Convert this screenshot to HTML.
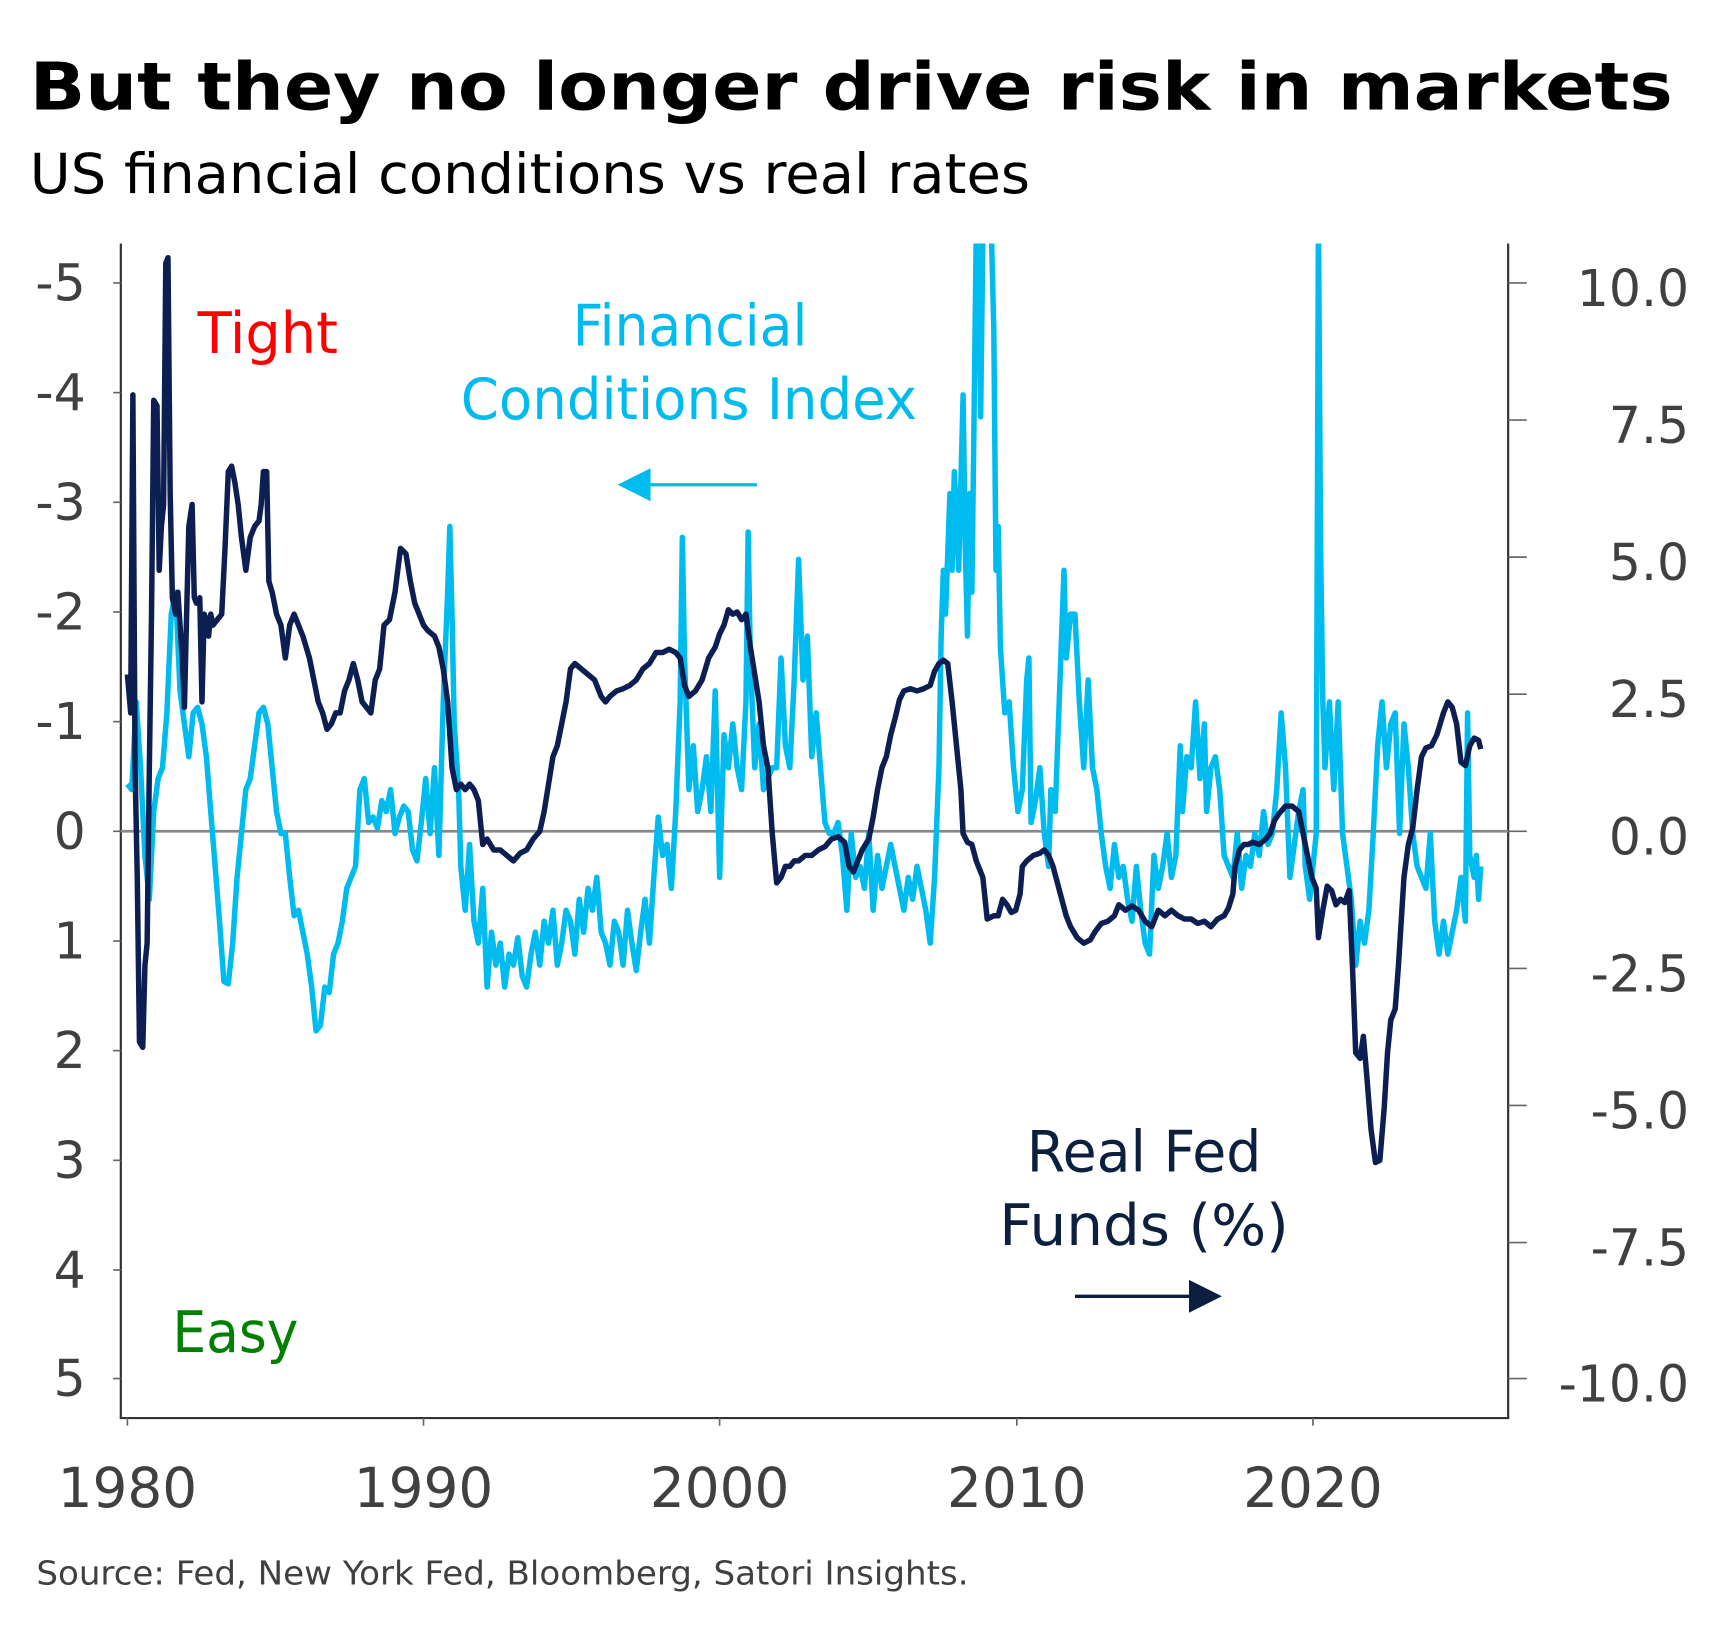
<!DOCTYPE html>
<html><head><meta charset="utf-8"><style>
html,body{margin:0;padding:0;background:#fff}
svg{display:block}
text{font-family:"DejaVu Sans","Liberation Sans",sans-serif}
</style></head><body>
<svg width="1720" height="1633" viewBox="0 0 1568 1489" xmlns="http://www.w3.org/2000/svg">
<defs><clipPath id="c"><rect x="110" y="222" width="1265" height="1071"/></clipPath></defs>
<rect width="1568" height="1489" fill="#fff"/>
<text x="27" y="100" font-size="60" font-weight="bold" fill="#000" textLength="1498" lengthAdjust="spacingAndGlyphs">But they no longer drive risk in markets</text>
<text x="27" y="176" font-size="50" fill="#000" textLength="912" lengthAdjust="spacingAndGlyphs">US financial conditions vs real rates</text>
<g stroke="#333" stroke-width="2" fill="none">
<line x1="110" y1="222" x2="110" y2="1293"/>
<line x1="1375" y1="222" x2="1375" y2="1293"/>
<line x1="109" y1="1293" x2="1376" y2="1293"/>
</g>
<line x1="110" y1="758" x2="1375" y2="758" stroke="#888" stroke-width="2.5"/>
<g stroke="#666" stroke-width="1.5">
<line x1="103" y1="258" x2="110" y2="258"/><line x1="103" y1="358" x2="110" y2="358"/><line x1="103" y1="458" x2="110" y2="458"/><line x1="103" y1="558" x2="110" y2="558"/><line x1="103" y1="658" x2="110" y2="658"/><line x1="103" y1="758" x2="110" y2="758"/><line x1="103" y1="858" x2="110" y2="858"/><line x1="103" y1="958" x2="110" y2="958"/><line x1="103" y1="1058" x2="110" y2="1058"/><line x1="103" y1="1158" x2="110" y2="1158"/><line x1="103" y1="1257" x2="110" y2="1257"/>
<line x1="1375" y1="258" x2="1392" y2="258"/><line x1="1375" y1="383" x2="1392" y2="383"/><line x1="1375" y1="508" x2="1392" y2="508"/><line x1="1375" y1="633" x2="1392" y2="633"/><line x1="1375" y1="758" x2="1392" y2="758"/><line x1="1375" y1="883" x2="1392" y2="883"/><line x1="1375" y1="1008" x2="1392" y2="1008"/><line x1="1375" y1="1133" x2="1392" y2="1133"/><line x1="1375" y1="1257" x2="1392" y2="1257"/>
<line x1="116" y1="1293" x2="116" y2="1300"/><line x1="386" y1="1293" x2="386" y2="1300"/><line x1="656" y1="1293" x2="656" y2="1300"/><line x1="927" y1="1293" x2="927" y2="1300"/><line x1="1197" y1="1293" x2="1197" y2="1300"/>
</g>
<g font-size="46" fill="#404040" text-anchor="end">
<text x="78" y="274">-5</text><text x="78" y="374">-4</text><text x="78" y="474">-3</text><text x="78" y="574">-2</text><text x="78" y="674">-1</text><text x="78" y="774">0</text><text x="78" y="874">1</text><text x="78" y="974">2</text><text x="78" y="1074">3</text><text x="78" y="1174">4</text><text x="78" y="1273">5</text>
<text x="1540" y="279">10.0</text><text x="1540" y="404">7.5</text><text x="1540" y="529">5.0</text><text x="1540" y="654">2.5</text><text x="1540" y="779">0.0</text><text x="1540" y="904">-2.5</text><text x="1540" y="1029">-5.0</text><text x="1540" y="1154">-7.5</text><text x="1540" y="1278">-10.0</text>
</g>
<g font-size="50" fill="#404040" text-anchor="middle">
<text x="116" y="1374">1980</text><text x="386" y="1374">1990</text><text x="656" y="1374">2000</text><text x="927" y="1374">2010</text><text x="1197" y="1374">2020</text>
</g>
<g clip-path="url(#c)">
<polyline fill="none" stroke="#00bbee" stroke-width="5" stroke-linejoin="round" points="116,715 120,720 124,640 128,700 132,780 136,820 140,740 144,710 148,700 152,650 156,560 160,540 164,630 168,660 172,690 176,650 180,645 184,660 188,690 192,740 196,790 200,840 204,895 208,897 212,860 216,800 220,760 224,720 228,710 232,680 236,650 240,645 244,660 248,700 252,740 256,760 260,760 264,800 268,835 272,830 276,850 280,870 284,900 288,940 292,935 296,900 300,905 304,870 308,860 312,840 316,810 320,800 324,790 328,720 332,710 336,750 340,745 344,755 348,730 352,740 356,720 360,760 364,745 368,735 372,740 376,775 380,785 384,750 388,710 392,760 396,700 400,780 404,640 408,540 410,480 412,560 414,660 418,720 420,790 424,830 428,770 432,840 436,860 440,810 444,900 448,850 452,880 456,860 460,900 464,870 468,880 472,855 476,890 480,900 484,870 488,850 492,880 496,840 500,860 504,830 508,880 512,860 516,830 520,840 524,870 528,820 532,850 536,810 540,830 544,800 548,850 552,860 556,880 560,840 564,850 568,880 572,830 576,860 580,885 584,850 588,820 592,860 596,800 600,745 604,780 608,770 612,810 616,740 620,640 622,490 624,600 628,720 632,680 636,740 640,720 644,690 648,740 652,630 656,800 660,670 664,700 668,660 672,700 676,720 680,640 682,485 684,600 688,700 692,660 696,720 700,710 704,700 708,700 712,600 716,680 720,700 724,620 728,510 732,620 736,580 740,690 744,650 748,700 752,750 756,760 760,760 764,750 768,780 772,830 776,760 780,800 784,790 788,810 792,760 796,830 800,780 804,810 808,790 812,770 816,790 820,810 824,830 828,800 832,820 836,790 840,810 844,830 848,860 852,800 856,700 858,580 860,520 862,560 866,450 868,520 870,430 872,470 874,520 876,440 878,360 880,500 882,580 884,450 886,540 888,380 890,210 892,210 894,380 896,220 900,180 904,220 906,300 908,520 910,480 912,590 916,650 920,640 924,700 928,740 932,720 936,620 938,600 940,750 944,730 948,700 952,760 956,790 958,720 962,740 966,630 970,520 972,600 976,560 980,560 984,640 988,700 992,620 996,700 1000,720 1004,760 1008,790 1012,810 1016,770 1020,800 1024,790 1028,820 1032,840 1036,790 1040,830 1044,860 1048,870 1052,780 1056,810 1060,790 1064,760 1068,800 1072,780 1076,680 1078,740 1082,690 1086,700 1090,640 1094,710 1098,660 1100,740 1104,700 1108,690 1112,720 1116,780 1120,790 1124,800 1128,760 1132,810 1136,780 1140,790 1144,760 1148,780 1152,740 1156,770 1160,760 1164,720 1168,650 1172,700 1176,800 1180,770 1184,740 1188,720 1190,790 1194,820 1196,800 1200,760 1202,200 1204,500 1206,640 1208,700 1212,640 1216,720 1220,640 1224,760 1228,790 1232,820 1236,880 1240,840 1244,860 1248,830 1252,760 1256,680 1260,640 1264,700 1268,660 1272,650 1276,760 1280,660 1284,700 1288,760 1292,790 1296,800 1300,810 1304,760 1308,840 1312,870 1316,840 1320,870 1324,850 1328,830 1332,800 1336,840 1338,650 1340,780 1344,800 1346,780 1348,820 1350,790"/>
<polyline fill="none" stroke="#0d1f52" stroke-width="5" stroke-linejoin="round" points="116,615 119,650 121,360 123,700 125,800 127,950 130,955 132,880 134,860 136,700 138,560 140,365 143,370 145,520 147,480 149,460 151,240 153,235 155,450 157,545 160,560 162,540 164,570 166,600 168,645 170,560 172,480 175,460 177,545 179,550 182,545 184,640 186,560 188,565 190,580 192,560 194,570 198,565 202,560 205,500 208,430 211,425 214,440 217,460 220,490 224,520 228,490 232,480 236,475 238,460 240,430 243,430 245,530 248,540 252,560 256,570 260,600 264,570 268,560 272,570 276,580 282,600 286,620 290,640 294,650 298,665 302,660 306,650 310,650 314,630 318,620 322,605 326,620 330,640 334,645 338,650 342,620 346,610 350,570 355,565 360,540 365,500 370,505 374,530 378,550 382,560 386,570 390,575 396,580 400,590 404,610 408,640 412,700 416,720 420,715 424,720 428,715 432,720 436,730 440,770 444,765 450,775 456,775 462,780 468,785 474,778 480,775 486,765 492,758 496,740 500,715 504,690 508,680 512,660 516,640 520,610 524,605 530,610 536,615 542,620 548,635 552,640 556,635 562,630 568,628 574,625 580,620 586,610 592,605 598,595 604,595 610,592 616,595 620,600 624,625 628,635 634,630 640,620 646,600 652,590 656,578 660,570 664,556 668,560 672,558 676,565 680,560 684,590 688,615 692,640 696,680 700,700 704,760 708,805 712,800 716,790 720,790 724,785 728,785 734,780 740,780 746,775 752,772 758,765 764,763 770,768 774,790 778,795 782,785 786,775 792,765 796,745 800,720 804,700 808,690 812,670 816,655 820,638 824,630 830,628 836,630 842,628 848,625 852,612 856,605 860,602 864,605 868,640 872,680 876,720 878,760 882,768 886,770 890,785 896,800 900,838 906,835 910,835 914,820 918,825 922,832 926,830 930,815 932,790 936,785 942,780 948,778 952,775 956,780 960,790 964,805 968,820 972,835 976,845 982,855 988,860 994,857 998,850 1004,842 1010,840 1016,835 1020,825 1026,830 1032,826 1038,830 1044,840 1050,845 1056,830 1062,835 1068,830 1074,835 1080,838 1086,838 1092,842 1098,840 1104,845 1110,838 1116,835 1120,828 1124,815 1126,790 1130,775 1134,770 1138,770 1142,768 1148,770 1154,765 1158,760 1162,748 1166,742 1172,735 1178,735 1184,740 1188,760 1192,780 1196,800 1200,810 1202,855 1206,830 1210,808 1214,812 1218,825 1222,820 1226,823 1230,812 1233,880 1236,960 1240,965 1243,945 1246,980 1250,1030 1254,1060 1258,1058 1262,1010 1265,960 1268,930 1272,920 1275,880 1280,800 1284,770 1288,755 1292,720 1296,690 1300,682 1305,680 1310,670 1316,650 1320,640 1324,645 1328,660 1332,695 1336,698 1340,680 1344,673 1348,675 1350,683"/>
</g>
<text x="180" y="322" font-size="52" fill="#ff0000" textLength="128" lengthAdjust="spacingAndGlyphs">Tight</text>
<text x="157" y="1233" font-size="52" fill="#008000" textLength="115" lengthAdjust="spacingAndGlyphs">Easy</text>
<g font-size="52" fill="#00bbee">
<text x="522" y="315" textLength="214" lengthAdjust="spacingAndGlyphs">Financial</text><text x="420" y="382" textLength="416" lengthAdjust="spacingAndGlyphs">Conditions Index</text>
</g>
<line x1="690" y1="442" x2="590" y2="442" stroke="#00bbee" stroke-width="3"/>
<polygon points="563,442 593,427 593,457" fill="#00bbee"/>
<g font-size="52" fill="#0d1f3f">
<text x="936" y="1068" textLength="214" lengthAdjust="spacingAndGlyphs">Real Fed</text><text x="911" y="1135" textLength="264" lengthAdjust="spacingAndGlyphs">Funds (%)</text>
</g>
<line x1="980" y1="1182" x2="1088" y2="1182" stroke="#0d1f3f" stroke-width="3"/>
<polygon points="1114,1182 1084,1167 1084,1197" fill="#0d1f3f"/>
<text x="33" y="1445" font-size="30" fill="#404040" textLength="850" lengthAdjust="spacingAndGlyphs">Source: Fed, New York Fed, Bloomberg, Satori Insights.</text>
</svg>
</body></html>
